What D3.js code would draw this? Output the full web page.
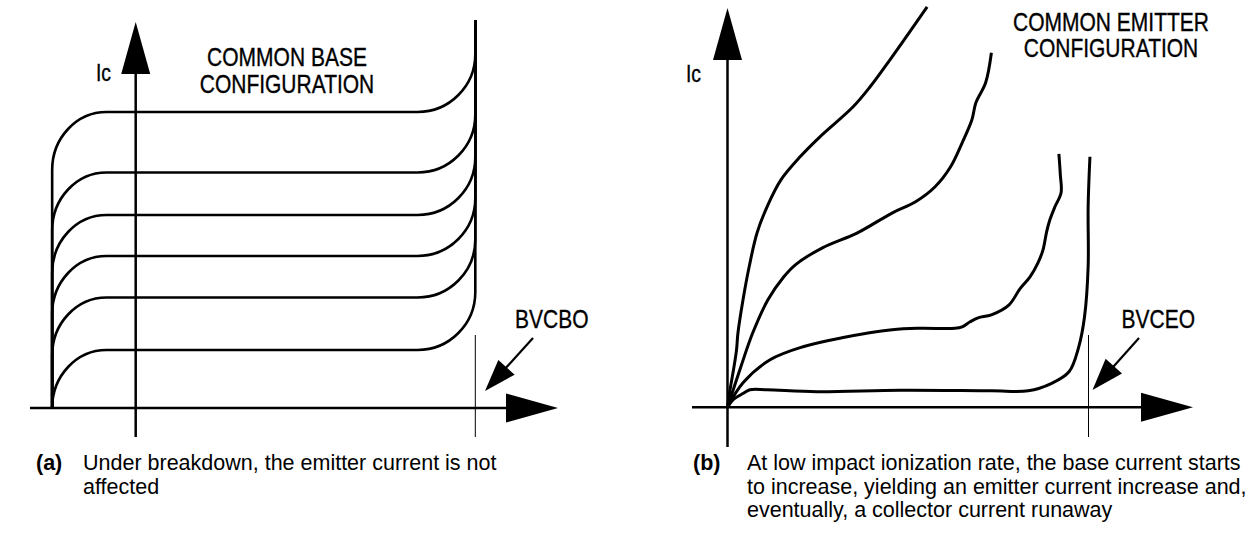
<!DOCTYPE html>
<html>
<head>
<meta charset="utf-8">
<script src="https://cdn.jsdelivr.net/npm/d3@7/dist/d3.min.js"></script>
<style>
    body { margin: 0; background: #fff; }
    svg  { display: block; }
    text { font-family: "Liberation Sans", Arial, Helvetica, sans-serif; fill: #000; }
</style>
</head>
<body>
<svg id="chart" width="1249" height="542"></svg>
<script>
// ---- data ------------------------------------------------------------------
// (a) common base: Ic plateau for each emitter current step (arbitrary units)
var cbLevels   = [1.16, 2.21, 3.04, 3.86, 4.71, 5.92];
var cbStartV   = -2.46;          // Vcb where the curves leave the axis
var BVCBO      = 10;             // breakdown voltage, same units as the x scale
var cbTopIc    = 7.76;           // where the breakdown branch is cut

// (b) common emitter: hand drawn Ic(Vce) curves, [Vce, Ic]
var ceCurve1 = [[0,0],[0.07,0.35],[0.18,0.81],[0.25,1.15],[0.29,1.49],[0.43,2.15],[0.6,2.81],
                [0.82,3.49],[1.12,4.05],[1.48,4.55],[2.01,5.01],[2.56,5.41],[3.48,6.01],
                [3.95,6.41],[4.5,6.95],[5.53,8.01]];
var ceCurve2 = [[0,0],[0.37,0.81],[0.7,1.49],[1.12,2.15],[1.56,2.61],[1.88,2.85],[2.63,3.19],
                [3.6,3.49],[4.57,3.89],[5.21,4.11],[5.75,4.41],[6.18,4.81],[6.5,5.29],
                [6.77,5.75],[6.88,6.09],[7.15,6.49],[7.31,7.09]];
var ceCurve3 = [[0,0],[0.43,0.49],[1.18,0.95],[2.09,1.21],[3.17,1.39],[4.56,1.55],[5.33,1.58],
                [6.3,1.58],[6.5,1.61],[6.72,1.71],[6.94,1.79],[7.31,1.85],[7.8,2.05],[8.1,2.37],
                [8.38,2.61],[8.6,2.89],[8.74,3.15],[8.84,3.51],[8.93,3.75],[9.07,4.01],
                [9.24,4.29],[9.22,4.65],[9.18,5.07]];
var ceCurve4 = [[0,0],[0.15,0.15],[0.44,0.28],[0.62,0.35],[1.09,0.35],[2.47,0.31],[4.78,0.34],
                [7.32,0.33],[8.33,0.33],[8.98,0.48],[9.46,0.71],[9.73,1.21],[9.89,1.81],
                [9.99,2.81],[9.99,4.01],[10.04,5.01]];
var ceCurves = [ceCurve1, ceCurve2, ceCurve3, ceCurve4];
var BVCEO    = 10;

var captionA = ['Under breakdown, the emitter current is not', 'affected'];
var captionB = ['At low impact ionization rate, the base current starts',
                'to increase, yielding an emitter current increase and,',
                'eventually, a collector current runaway'];

// ---- layout ----------------------------------------------------------------
var svg = d3.select('#chart');
var condense = 0.84;   // the figure lettering is a narrow grotesque

var panelA = {
    x       : d3.scaleLinear().domain([0, 10]).range([135.7, 475.3]),
    y       : d3.scaleLinear().domain([0, 8]).range([408, 8]),
    xAxis   : [30, 558],
    yAxis   : [437, 22],
    bv      : BVCBO,
    marker  : [335, 437],
    bvText  : 'BVCBO', bvPos: [515, 328],
    pointer : [[533, 338], [485, 391]],
    icPos   : [96, 81],
    title   : ['COMMON BASE', 'CONFIGURATION'], titleX: 287, titleY: [66, 93]
};
var panelB = {
    x       : d3.scaleLinear().domain([0, 10]).range([727.5, 1088.5]),
    y       : d3.scaleLinear().domain([0, 8]).range([407.3, 7.3]),
    xAxis   : [692, 1193],
    yAxis   : [447, 8],
    bv      : BVCEO,
    marker  : [335, 437],
    bvText  : 'BVCEO', bvPos: [1121.5, 328],
    pointer : [[1139, 338], [1092.5, 390]],
    icPos   : [686, 82],
    title   : ['COMMON EMITTER', 'CONFIGURATION'], titleX: 1111, titleY: [31, 57]
};

function arrowHead(g, tip, from, len, half){
    var dx = tip[0] - from[0], dy = tip[1] - from[1];
    var d = Math.sqrt(dx*dx + dy*dy);
    var ux = dx / d, uy = dy / d;
    var bx = tip[0] - ux*len, by = tip[1] - uy*len;
    g.append('polygon')
        .attr('points', [tip, [bx - uy*half, by + ux*half], [bx + uy*half, by - ux*half]].join(' '))
        .attr('fill', '#000');
}

function condensedText(g, x, y, str, size, anchor){
    g.append('text')
        .attr('transform', 'translate(' + x + ',' + y + ') scale(' + condense + ',1)')
        .attr('text-anchor', anchor || 'start')
        .style('font-size', size + 'px')
        .style('stroke', '#000')
        .style('stroke-width', 0.35)
        .text(str);
}

function drawFrame(p){
    var g = svg.append('g');
    var y0 = p.y(0), x0 = p.x(0);

    // axes with big solid arrowheads
    g.append('line').attr('x1', p.xAxis[0]).attr('x2', p.xAxis[1] - 30)
        .attr('y1', y0).attr('y2', y0).attr('stroke', '#000').attr('stroke-width', 2.5);
    arrowHead(g, [p.xAxis[1], y0], [p.xAxis[0], y0], 52, 14.5);

    g.append('line').attr('x1', x0).attr('x2', x0)
        .attr('y1', p.yAxis[0]).attr('y2', p.yAxis[1] + 30).attr('stroke', '#000').attr('stroke-width', 2.5);
    arrowHead(g, [x0, p.yAxis[1]], [x0, p.yAxis[0]], 52, 14.5);

    // breakdown marker
    g.append('line').attr('x1', p.x(p.bv)).attr('x2', p.x(p.bv))
        .attr('y1', p.marker[0]).attr('y2', p.marker[1]).attr('stroke', '#000').attr('stroke-width', 1);

    g.append('line')
        .attr('x1', p.pointer[0][0]).attr('y1', p.pointer[0][1])
        .attr('x2', p.pointer[1][0] + (p.pointer[0][0] - p.pointer[1][0]) * 0.4)
        .attr('y2', p.pointer[1][1] + (p.pointer[0][1] - p.pointer[1][1]) * 0.4)
        .attr('stroke', '#000').attr('stroke-width', 2.2);
    arrowHead(g, p.pointer[1], p.pointer[0], 32, 11);

    condensedText(g, p.bvPos[0], p.bvPos[1], p.bvText, 25);
    condensedText(g, p.icPos[0], p.icPos[1], 'Ic', 23);
    p.title.forEach(function(t, i){
        condensedText(g, p.titleX, p.titleY[i], t, 25, 'middle');
    });
    return g;
}

// ---- (a) common base -------------------------------------------------------
var gA = drawFrame(panelA);
var kneeL = [1.6, 1.16], kneeR = [1.7, 1.16];   // knee rounding in (V, Ic)
var k = 0.5523;
var xa = panelA.x, ya = panelA.y;

gA.selectAll('path.cb')
    .data(cbLevels)
    .enter().append('path')
    .attr('class', 'cb')
    .attr('fill', 'none')
    .attr('stroke', '#000')
    .attr('stroke-width', 2.6)
    .attr('d', function(L){
        var p = d3.path();
        p.moveTo(xa(cbStartV), ya(0));
        p.lineTo(xa(cbStartV), ya(L - kneeL[1]));
        p.bezierCurveTo(xa(cbStartV), ya(L - kneeL[1] + kneeL[1]*k),
                        xa(cbStartV + kneeL[0] - kneeL[0]*k), ya(L),
                        xa(cbStartV + kneeL[0]), ya(L));
        p.lineTo(xa(BVCBO - kneeR[0]), ya(L));
        p.bezierCurveTo(xa(BVCBO - kneeR[0] + kneeR[0]*k), ya(L),
                        xa(BVCBO), ya(L + kneeR[1] - kneeR[1]*k),
                        xa(BVCBO), ya(L + kneeR[1]));
        p.lineTo(xa(BVCBO), ya(cbTopIc));
        return p.toString();
    });

// ---- (b) common emitter ----------------------------------------------------
var gB = drawFrame(panelB);
var ceLine = d3.line()
    .x(function(d){ return panelB.x(d[0]); })
    .y(function(d){ return panelB.y(d[1]); })
    .curve(d3.curveCatmullRom.alpha(0.5));

gB.selectAll('path.ce')
    .data(ceCurves)
    .enter().append('path')
    .attr('class', 'ce')
    .attr('fill', 'none')
    .attr('stroke', '#000')
    .attr('stroke-width', 3)
    .attr('stroke-linejoin', 'round')
    .attr('d', ceLine);

// ---- captions --------------------------------------------------------------
function caption(tag, lines, xTag, xText){
    var g = svg.append('g').style('font-size', '21.5px');
    g.append('text').attr('x', xTag).attr('y', 470).style('font-weight', 'bold').text(tag);
    lines.forEach(function(l, i){
        g.append('text').attr('x', xText).attr('y', 470 + i*23.5).text(l);
    });
}
caption('(a)', captionA, 36, 83);
caption('(b)', captionB, 693, 747);
</script>
</body>
</html>
